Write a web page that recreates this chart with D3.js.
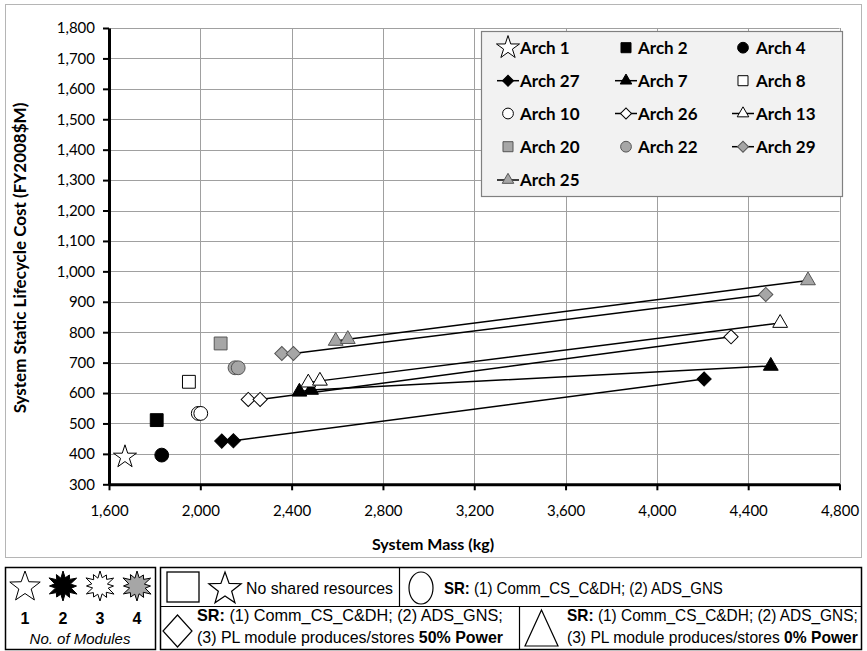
<!DOCTYPE html>
<html>
<head>
<meta charset="utf-8">
<script src="https://cdn.jsdelivr.net/npm/d3@7"></script>
<style>
  body { margin: 0; background: #fff; }
  svg { display: block; }
  text { font-family: Lato, "Open Sans", sans-serif; }
  .panel text { font-family: "Liberation Sans Narrow", "Arial Narrow", "Liberation Sans", Arial, sans-serif; }
</style>
</head>
<body>
<svg width="867" height="651"></svg>
<script>
const xTicks = [1600, 2000, 2400, 2800, 3200, 3600, 4000, 4400, 4800];
const yTicks = [300, 400, 500, 600, 700, 800, 900, 1000, 1100, 1200, 1300, 1400, 1500, 1600, 1700, 1800];

// legend order (row by row, 3 columns)
const archNames = ["Arch 1", "Arch 2", "Arch 4", "Arch 27", "Arch 7", "Arch 8", "Arch 10",
  "Arch 26", "Arch 13", "Arch 20", "Arch 22", "Arch 29", "Arch 25"];
// system mass (kg) per arch
const massKg = [
  [1670], [1809], [1831],
  [2094, 2145, 4207],
  [2434, 2485, 4499],
  [1950],
  [1991, 2002],
  [2210, 2262, 4325],
  [2473, 2524, 4540],
  [2089],
  [2152, 2166],
  [2357, 2408, 4477],
  [2593, 2646, 4662]
];
// system static lifecycle cost (FY2008$M) per arch
const costM = [
  [390], [511], [396],
  [442, 443, 646],
  [604, 610, 689],
  [637],
  [533, 533],
  [579, 579, 785],
  [634, 640, 830],
  [763],
  [683, 683],
  [730, 730, 924],
  [771, 777, 970]
];

// marker look per arch: shape, fill, connected by a line
const looks = [
  { shape: "star", fill: "#fff", line: false },
  { shape: "square", fill: "#000", line: false },
  { shape: "circle", fill: "#000", line: false },
  { shape: "diamond", fill: "#000", line: true },
  { shape: "triangle", fill: "#000", line: true },
  { shape: "square", fill: "#fff", line: false },
  { shape: "circle", fill: "#fff", line: false },
  { shape: "diamond", fill: "#fff", line: true },
  { shape: "triangle", fill: "#fff", line: true },
  { shape: "square", fill: "#a6a6a6", line: false },
  { shape: "circle", fill: "#a6a6a6", line: false },
  { shape: "diamond", fill: "#a6a6a6", line: true },
  { shape: "triangle", fill: "#a6a6a6", line: true }
];

const svg = d3.select("svg");
const x = d3.scaleLinear().domain([1600, 4800]).range([109, 839.5]);
const y = d3.scaleLinear().domain([300, 1800]).range([484.3, 28]);

// chart area frame
svg.append("rect").attr("x", 5.5).attr("y", 4.5).attr("width", 856).attr("height", 553)
  .attr("fill", "#fff").attr("stroke", "#b5b5b5");

// gridlines
const grid = svg.append("g").attr("stroke", "#a0a0a0").attr("stroke-width", 1);
grid.selectAll(".gy").data(yTicks.slice(1)).enter().append("line")
  .attr("x1", x(1600)).attr("x2", x(4800))
  .attr("y1", d => Math.round(y(d)) + 0.5).attr("y2", d => Math.round(y(d)) + 0.5);
grid.selectAll(".gx").data(xTicks.slice(1)).enter().append("line")
  .attr("y1", y(300)).attr("y2", y(1800))
  .attr("x1", d => Math.round(x(d)) + 0.5).attr("x2", d => Math.round(x(d)) + 0.5);

// axes
const xAxis = svg.append("g").attr("transform", "translate(0," + y(300) + ")")
  .call(d3.axisBottom(x).tickValues(xTicks).tickFormat(d3.format(",")).tickSizeOuter(0).tickSizeInner(6).tickPadding(15));
const yAxis = svg.append("g").attr("transform", "translate(" + x(1600) + ",0)")
  .call(d3.axisLeft(y).tickValues(yTicks).tickFormat(d3.format(",")).tickSizeOuter(0).tickSizeInner(6).tickPadding(8));
[xAxis, yAxis].forEach(a => {
  a.select(".domain").attr("stroke", "#000").attr("stroke-width", 3);
  a.selectAll(".tick line").attr("stroke", "#000").attr("stroke-width", 2);
  a.selectAll("text").attr("font-family", "Lato, sans-serif").attr("font-size", 15).attr("fill", "#000");
});

svg.append("text").attr("x", 433).attr("y", 550).attr("text-anchor", "middle")
  .attr("font-weight", "bold").attr("font-size", 16).text("System Mass (kg)");
svg.append("text").attr("transform", "translate(26,258) rotate(-90)").attr("text-anchor", "middle")
  .attr("font-weight", "bold").attr("font-size", 17).text("System Static Lifecycle Cost (FY2008$M)");

// marker drawing
function marker(g, shape, fill, big) {
  const s = big ? 1 : 0.78;
  let p;
  if (shape === "star") {
    p = g.append("path").attr("d", d3.symbol().type(d3.symbolStar).size(165)());
  } else if (shape === "square") {
    p = g.append("path").attr("d", d3.symbol().type(d3.symbolSquare).size(165 * s * s)());
  } else if (shape === "circle") {
    p = g.append("path").attr("d", d3.symbol().type(d3.symbolCircle).size(150 * s * s)());
  } else if (shape === "diamond") {
    p = g.append("path").attr("d", d3.symbol().type(d3.symbolSquare).size(100 * s * s)())
      .attr("transform", "rotate(45)");
  } else {
    p = g.append("path").attr("d", d3.symbol().type(d3.symbolTriangle).size(95 * s * s)());
  }
  p.attr("fill", fill).attr("stroke", fill === "#a6a6a6" ? "#555" : "#000").attr("stroke-width", 1);
}

// lines then markers
const line = d3.line().x(d => x(d[0])).y(d => y(d[1]));
archNames.forEach((name, i) => {
  if (!looks[i].line) return;
  const pts = massKg[i].map((m, j) => [m, costM[i][j]]);
  svg.append("path").attr("d", line(pts)).attr("fill", "none").attr("stroke", "#000").attr("stroke-width", 1.5);
});
archNames.forEach((name, i) => {
  massKg[i].forEach((m, j) => {
    const g = svg.append("g").attr("transform", "translate(" + x(m) + "," + y(costM[i][j]) + ")");
    marker(g, looks[i].shape, looks[i].fill, true);
  });
});

// legend
const leg = svg.append("g");
leg.append("rect").attr("x", 481.5).attr("y", 31.5).attr("width", 361).attr("height", 165)
  .attr("fill", "#f2f2f2").attr("stroke", "#808080").attr("stroke-width", 1.2);
const colMarkX = [508, 626, 743];
const colTextX = [520, 638, 756];
const rowY = [47.7, 80.7, 113.5, 146.7, 180];
archNames.forEach((name, i) => {
  const c = i % 3, r = Math.floor(i / 3);
  const g = leg.append("g").attr("transform", "translate(" + colMarkX[c] + "," + rowY[r] + ")");
  if (looks[i].line) {
    g.append("line").attr("x1", -11).attr("x2", 11).attr("stroke", "#000").attr("stroke-width", 1.5);
  }
  marker(g, looks[i].shape, looks[i].fill, looks[i].shape === "star");
  leg.append("text").attr("x", colTextX[c]).attr("y", rowY[r]).attr("dy", "0.36em")
    .attr("font-weight", "bold").attr("font-size", 17).text(name);
});

// bottom key panel
const panel = svg.append("g").attr("class", "panel");
panel.append("rect").attr("x", 5.5).attr("y", 567.5).attr("width", 150).attr("height", 82)
  .attr("fill", "#fff").attr("stroke", "#000").attr("stroke-width", 1.5);
panel.append("rect").attr("x", 160.5).attr("y", 567.5).attr("width", 701).attr("height", 82)
  .attr("fill", "#fff").attr("stroke", "#000").attr("stroke-width", 1.5);
panel.append("line").attr("x1", 160.5).attr("x2", 861.5).attr("y1", 606.5).attr("y2", 606.5)
  .attr("stroke", "#000").attr("stroke-width", 1.2);
panel.append("line").attr("x1", 399.5).attr("x2", 399.5).attr("y1", 567.5).attr("y2", 606.5)
  .attr("stroke", "#000").attr("stroke-width", 1.2);
panel.append("line").attr("x1", 519.5).attr("x2", 519.5).attr("y1", 606.5).attr("y2", 649.5)
  .attr("stroke", "#000").attr("stroke-width", 1.2);

function starPath(cx, cy, n, rOut, rIn, jag) {
  const pts = [];
  for (let k = 0; k < n * 2; k++) {
    const a = -Math.PI / 2 + k * Math.PI / n;
    let r = k % 2 === 0 ? rOut : rIn;
    if (jag) r *= jag[k % jag.length];
    pts.push([cx + r * Math.cos(a), cy + r * Math.sin(a)]);
  }
  return "M" + pts.map(p => p.join(",")).join("L") + "Z";
}
const jag = [1, 1, 0.85, 1.1, 1.05, 0.9, 0.9, 1, 1.08, 1.05, 0.88, 0.95];
const moduleX = [25, 63, 100, 137];
const moduleFill = ["#fff", "#000", "#fff", "#a6a6a6"];
moduleX.forEach((mx, k) => {
  const d = k === 0 ? starPath(mx, 587, 5, 16, 6.5) : starPath(mx, 586, 12, 15, 8.5, jag);
  panel.append("path").attr("d", d).attr("fill", moduleFill[k]).attr("stroke", "#000").attr("stroke-width", 1);
  panel.append("text").attr("x", mx).attr("y", 624).attr("text-anchor", "middle")
    .attr("font-weight", "bold").attr("font-size", 16).text(k + 1);
});
panel.append("text").attr("x", 80).attr("y", 644).attr("text-anchor", "middle")
  .attr("font-style", "italic").attr("font-size", 15).text("No. of Modules");

panel.append("rect").attr("x", 167).attr("y", 572).attr("width", 32).attr("height", 30)
  .attr("fill", "#fff").attr("stroke", "#000").attr("stroke-width", 1.3);
panel.append("path").attr("d", starPath(225, 589, 5, 17, 7)).attr("fill", "#fff").attr("stroke", "#000").attr("stroke-width", 1.2);
panel.append("ellipse").attr("cx", 421).attr("cy", 588).attr("rx", 12).attr("ry", 16)
  .attr("fill", "#fff").attr("stroke", "#000").attr("stroke-width", 1.2);
panel.append("path").attr("d", "M177.5,615L192,631L177.5,647L163,631Z")
  .attr("fill", "#fff").attr("stroke", "#000").attr("stroke-width", 1.2);
panel.append("path").attr("d", "M541.5,610L558,646L525,646Z")
  .attr("fill", "#fff").attr("stroke", "#000").attr("stroke-width", 1.2);

// text fitted to measured widths
function fitted(parts, x0, x1, base) {
  const g = panel.append("g");
  const t = g.append("text").attr("font-size", 16);
  parts.forEach(p => t.append("tspan").attr("font-weight", p[1] ? "bold" : null).text(p[0]));
  const w = t.node().getBBox().width;
  g.attr("transform", "translate(" + x0 + "," + base + ") scale(" + ((x1 - x0) / w) + ",1)");
}
fitted([["No shared resources", false]], 246, 393, 594);
fitted([["SR:", true], [" (1) Comm_CS_C&DH; (2) ADS_GNS", false]], 444, 723, 594);
fitted([["SR:", true], [" (1) Comm_CS_C&DH; (2) ADS_GNS;", false]], 197, 503, 621);
fitted([["(3) PL module produces/stores ", false], ["50% Power", true]], 197, 503, 643);
fitted([["SR:", true], [" (1) Comm_CS_C&DH; (2) ADS_GNS;", false]], 567, 858, 621);
fitted([["(3) PL module produces/stores ", false], ["0% Power", true]], 567, 858, 643);
</script>
</body>
</html>
